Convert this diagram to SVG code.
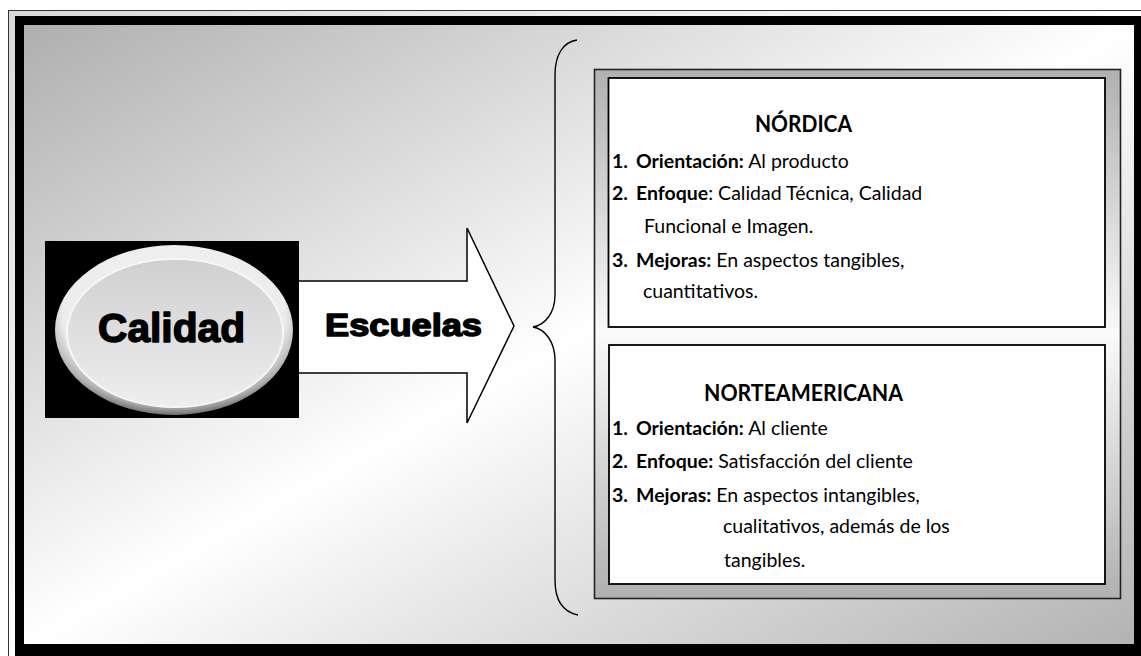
<svg xmlns="http://www.w3.org/2000/svg" width="1141" height="656" viewBox="0 0 1141 656">
  <defs>
    <linearGradient id="bgGrad" x1="0" y1="0" x2="1" y2="1">
      <stop offset="0" stop-color="#afafaf"/>
      <stop offset="0.5" stop-color="#ffffff"/>
      <stop offset="1" stop-color="#b3b3b3"/>
    </linearGradient>
    <linearGradient id="rimGrad" x1="0" y1="0" x2="1" y2="1">
      <stop offset="0" stop-color="#d8d8d8"/>
      <stop offset="0.5" stop-color="#ffffff"/>
      <stop offset="1" stop-color="#d8d8d8"/>
    </linearGradient>
    <linearGradient id="panelGrad" x1="0" y1="0" x2="0" y2="1">
      <stop offset="0" stop-color="#b0b0b0"/>
      <stop offset="0.5" stop-color="#fafafa"/>
      <stop offset="1" stop-color="#b0b0b0"/>
    </linearGradient>
    <radialGradient id="btnOuter" cx="0.5" cy="0.4" r="0.6">
      <stop offset="0" stop-color="#f6f6f6"/>
      <stop offset="0.78" stop-color="#ececec"/>
      <stop offset="0.92" stop-color="#b0b0b0"/>
      <stop offset="1" stop-color="#707070"/>
    </radialGradient>
    <linearGradient id="btnInner" x1="0" y1="0" x2="0" y2="1">
      <stop offset="0" stop-color="#d0d0d0"/>
      <stop offset="1" stop-color="#eeeeee"/>
    </linearGradient>
    <style>
      .box { fill: #ffffff; stroke: #000000; stroke-width: 1.8; }
      .t { font-family: "Lato", "Liberation Sans", sans-serif; font-size: 19.5px; fill: #000; }
      .b { font-weight: bold; }
      .title { font-family: "Lato", "Liberation Sans", sans-serif; font-size: 22px; font-weight: bold; fill: #000; }
      .big { font-family: "Liberation Sans", Arial, sans-serif; font-weight: bold; fill: #000; stroke: #000; stroke-width: 1.5; stroke-linejoin: round; }
    </style>
  </defs>

  <!-- frame -->
  <rect x="0" y="0" width="1141" height="656" fill="#ffffff"/>
  <rect x="8.5" y="10.5" width="1140" height="660" fill="url(#rimGrad)" stroke="#333333" stroke-width="1"/>
  <rect x="15" y="16" width="1130" height="645" fill="#000000"/>
  <rect x="24" y="25" width="1110" height="619" fill="url(#bgGrad)"/>

  <!-- connectors -->
  <g id="connectors">
    <polygon points="290,281 467,281 467,228 514,326 467,423 467,373 290,373" fill="#ffffff" stroke="#000000" stroke-width="1.5" stroke-linejoin="miter"/>
    <path d="M577,40 C563,42 555,55 555,75 L555,295 C555,313 545,325 533,327 C545,329 555,342 555,360 L555,580 C555,600 563,612 578,615" fill="none" stroke="#000000" stroke-width="1.4"/>
  </g>

  <!-- Calidad node -->
  <g id="calidad">
    <rect x="45" y="241" width="254" height="177" fill="#000000"/>
    <ellipse cx="174" cy="330" rx="119" ry="85" fill="url(#btnOuter)"/>
    <ellipse cx="175" cy="333" rx="108" ry="74" fill="url(#btnInner)" stroke="#f6f6f6" stroke-width="2"/>
    <text class="big" x="171.5" y="342" font-size="41" text-anchor="middle" textLength="147" lengthAdjust="spacingAndGlyphs">Calidad</text>
  </g>

  <!-- Escuelas label -->
  <g id="escuelas">
    <text class="big" x="325" y="336" font-size="31" textLength="157" lengthAdjust="spacingAndGlyphs">Escuelas</text>
  </g>

  <!-- panel -->
  <g id="panel">
    <rect x="594.5" y="69.5" width="526" height="529" fill="url(#panelGrad)" stroke="#222222" stroke-width="1.6"/>
  </g>

  <!-- Nordica -->
  <g id="nordica">
    <rect class="box" x="608.5" y="78" width="496.5" height="249"/>
    <text class="title" x="803.5" y="132" text-anchor="middle" textLength="97" lengthAdjust="spacingAndGlyphs">NÓRDICA</text>
    <text class="t" y="168"><tspan class="b" x="612">1.</tspan><tspan class="b" x="636">Orientación:</tspan> Al producto</text>
    <text class="t" y="200"><tspan class="b" x="612">2.</tspan><tspan class="b" x="636">Enfoque</tspan>: Calidad Técnica, Calidad</text>
    <text class="t" x="644" y="233">Funcional e Imagen.</text>
    <text class="t" y="267"><tspan class="b" x="612">3.</tspan><tspan class="b" x="636">Mejoras:</tspan> En aspectos tangibles,</text>
    <text class="t" x="643" y="298">cuantitativos.</text>
  </g>

  <!-- Norteamericana -->
  <g id="norteamericana">
    <rect class="box" x="609" y="345" width="496" height="239"/>
    <text class="title" x="803.5" y="401" text-anchor="middle" textLength="199" lengthAdjust="spacingAndGlyphs">NORTEAMERICANA</text>
    <text class="t" y="435"><tspan class="b" x="612">1.</tspan><tspan class="b" x="636">Orientación:</tspan> Al cliente</text>
    <text class="t" y="468"><tspan class="b" x="612">2.</tspan><tspan class="b" x="636">Enfoque:</tspan> Satisfacción del cliente</text>
    <text class="t" y="502"><tspan class="b" x="612">3.</tspan><tspan class="b" x="636">Mejoras:</tspan> En aspectos intangibles,</text>
    <text class="t" x="723" y="533">cualitativos, además de los</text>
    <text class="t" x="724" y="567">tangibles.</text>
  </g>
</svg>
